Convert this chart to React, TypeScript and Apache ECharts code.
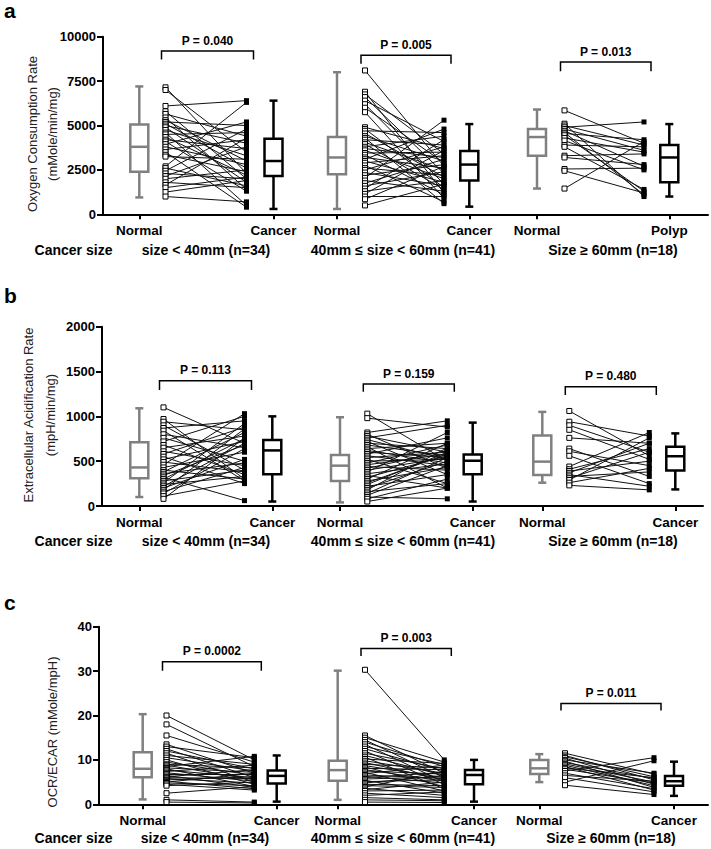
import React, { useEffect, useRef } from 'react';
import * as echarts from 'echarts';

const FONT = '"Liberation Sans", Arial, Helvetica, sans-serif';

// ---------- Panel a: Oxygen consumption rate ----------
const OCR_N1 = [7150, 7000, 6100, 5800, 5650, 5450, 5300, 5200, 5100, 5000, 4900, 4750, 4600, 4500, 4350, 4200, 4100, 3950, 3800, 3650, 3500, 3350, 3250, 2700, 2600, 2450, 2300, 2150, 2000, 1800, 1650, 1500, 1250, 1000];
const OCR_C1 = [2300, 3500, 6400, 2000, 4400, 1400, 3000, 5000, 2600, 4000, 1800, 3300, 500, 4600, 2200, 3700, 1300, 5200, 2800, 4200, 400, 2400, 3100, 6300, 1600, 4800, 2000, 3800, 2500, 1500, 4300, 2100, 1900, 700];
const OCR_N2 = [8100, 6900, 6750, 6600, 6400, 6200, 6000, 5750, 4900, 4800, 4700, 4550, 4400, 4300, 4200, 4050, 3950, 3800, 3700, 3600, 3450, 3350, 3200, 3100, 3000, 2900, 2750, 2600, 2500, 2350, 2200, 2050, 1900, 1750, 1600, 1450, 1300, 1150, 1000, 850, 500];
const OCR_C2 = [2700, 1200, 3400, 2300, 4100, 1700, 2900, 900, 3700, 1500, 4600, 2100, 3000, 600, 3900, 2500, 1400, 4400, 3200, 2000, 3500, 1100, 2600, 4800, 1800, 3300, 700, 2200, 3800, 1600, 2800, 5300, 1300, 3100, 2400, 4200, 1900, 3600, 1000, 2700, 1700];
const OCR_N3 = [5850, 5100, 5000, 4900, 4800, 4700, 4600, 4550, 4450, 4300, 4150, 3900, 3800, 3300, 3200, 2550, 2450, 1450];
const OCR_C3 = [4000, 1000, 3900, 5200, 3600, 2700, 1100, 4200, 1300, 3500, 2500, 3800, 1400, 3400, 2800, 2600, 1200, 4100];
// box stats: [min, q1, median, q3, max]
const OCR_BOX_N = [[950, 2400, 3800, 5050, 7200], [300, 2250, 3200, 4350, 8000], [1450, 3300, 4350, 4800, 5900]];
const OCR_BOX_C = [[300, 2150, 3000, 4250, 6400], [430, 1900, 2800, 3570, 5080], [1000, 1800, 3200, 3900, 5080]];
const OCR_P = ['P = 0.040', 'P = 0.005', 'P = 0.013'];
const OCR_BRACKET = [[9190, 8710], [8950, 8480], [8570, 8050]];

// ---------- Panel b: Extracellular acidification rate ----------
const ECAR_N1 = [1100, 970, 940, 900, 870, 840, 800, 760, 720, 680, 650, 610, 580, 550, 520, 490, 460, 430, 400, 380, 360, 340, 320, 300, 280, 260, 240, 220, 200, 180, 160, 140, 110, 80];
const ECAR_C1 = [700, 300, 850, 400, 950, 280, 650, 500, 1000, 350, 780, 450, 880, 250, 720, 380, 1030, 600, 300, 820, 480, 680, 60, 750, 400, 920, 330, 700, 520, 860, 430, 640, 280, 760];
const ECAR_N2 = [1030, 980, 820, 800, 780, 760, 740, 720, 700, 680, 660, 640, 620, 600, 580, 560, 540, 520, 500, 480, 460, 440, 420, 400, 380, 360, 340, 320, 300, 280, 260, 240, 220, 200, 180, 160, 140, 120, 100, 80, 50];
const ECAR_C2 = [500, 880, 950, 420, 600, 900, 520, 350, 640, 560, 200, 700, 480, 540, 760, 450, 600, 250, 520, 680, 580, 400, 620, 540, 820, 470, 200, 560, 700, 430, 580, 600, 350, 500, 650, 250, 540, 450, 80, 300, 200];
const ECAR_N3 = [1060, 940, 900, 850, 760, 640, 610, 560, 440, 410, 390, 370, 350, 330, 310, 290, 260, 230];
const ECAR_C3 = [560, 780, 600, 520, 700, 330, 450, 250, 820, 640, 500, 700, 220, 380, 600, 760, 420, 180];
const ECAR_BOX_N = [[100, 310, 430, 710, 1090], [40, 280, 450, 570, 990], [260, 345, 495, 785, 1050]];
const ECAR_BOX_C = [[50, 355, 620, 735, 1000], [50, 355, 505, 575, 930], [185, 395, 555, 660, 810]];
const ECAR_P = ['P = 0.113', 'P = 0.159', 'P = 0.480'];
const ECAR_BRACKET = [[1397, 1293], [1360, 1274], [1330, 1238]];

// ---------- Panel c: OCR/ECAR ----------
const RATIO_N1 = [20, 18, 15.5, 13.5, 13, 12.5, 12, 11.5, 11, 10.5, 10, 9.5, 9, 8.8, 8.5, 8.2, 8, 7.7, 7.4, 7.1, 6.8, 6.5, 6.2, 6, 5.8, 5.5, 5.2, 5, 4.8, 4.5, 4.2, 2.5, 1, 0.5];
const RATIO_C1 = [10, 8.5, 9.5, 7, 10.5, 6, 8, 5, 9, 7.5, 4.5, 6.5, 8.2, 5.5, 10.8, 7.2, 4, 6, 8.8, 5.2, 6.8, 3.8, 7.8, 5.8, 4.8, 6.2, 3.5, 7, 4.2, 3.2, 5, 4, 0.5, 0.3];
const RATIO_N2 = [30.3, 15.5, 15, 14.5, 14, 13.5, 13, 12.5, 12, 11.5, 11, 10.6, 10.2, 9.8, 9.4, 9, 8.7, 8.4, 8.1, 7.8, 7.5, 7.2, 6.9, 6.6, 6.3, 6, 5.7, 5.4, 5.1, 4.8, 4.5, 4.2, 3.9, 3.6, 3.3, 3, 2.5, 2, 1.5, 1, 0.5];
const RATIO_C2 = [10, 7, 9.5, 6, 8.5, 5, 9, 7.5, 4.5, 8, 6.5, 3.5, 9.2, 7, 5.5, 8.2, 6, 4, 7.8, 5.2, 6.8, 3, 8.8, 5.8, 4.8, 7.2, 6.2, 2.5, 5.5, 6.5, 4.2, 3.8, 7.5, 2, 5, 3.2, 1.5, 2.8, 1, 0.8, 0.4];
const RATIO_N3 = [11.5, 11, 10.7, 10.4, 10, 9.7, 9.4, 9.1, 8.8, 8.5, 8.2, 7.9, 7.5, 7, 6.5, 6, 5, 4.3];
const RATIO_C3 = [6.8, 5.5, 6.2, 4.5, 7, 3.8, 5.8, 5, 4.2, 3.2, 6, 4.8, 10.5, 3.5, 5.2, 2.8, 9.8, 2.2];
const RATIO_BOX_N = [[1.1, 6.1, 8.0, 11.7, 20.3], [1.0, 5.3, 7.7, 9.8, 30.1], [5.0, 6.8, 8.1, 10.0, 11.3]];
const RATIO_BOX_C = [[0.6, 4.7, 6.4, 7.6, 11.0], [0.6, 4.5, 6.6, 7.7, 10.0], [1.9, 4.2, 5.2, 6.4, 9.6]];
const RATIO_P = ['P = 0.0002', 'P = 0.003', 'P = 0.011'];
const RATIO_BRACKET = [[32.1, 30.1], [35.1, 33.4], [22.7, 21.1]];

// ---------- texts ----------
const X_LABELS_A = ['Normal', 'Cancer', 'Normal', 'Cancer', 'Normal', 'Polyp'];
const X_LABELS_BC = ['Normal', 'Cancer', 'Normal', 'Cancer', 'Normal', 'Cancer'];
const SIZE_ROW_TITLE = 'Cancer size';
const SIZE_GROUPS = ['size < 40mm (n=34)', '40mm \u2264 size < 60mm (n=41)', 'Size \u2265 60mm (n=18)'];

// ---------- layout (pixel positions of slots: normal box, left points, right points, cancer box) ----------
const PANELS = [
  {
    letter: 'a', yMax: 10000, yInterval: 2500,
    left: 103, right: 708, top: 36.7, bottom: 214.3,
    slots: [[139.3, 165.5, 246.5, 273.5], [337, 365, 444, 469.3], [537, 564.5, 644, 669.3]],
    xLabels: X_LABELS_A,
    normal: [OCR_N1, OCR_N2, OCR_N3], cancer: [OCR_C1, OCR_C2, OCR_C3],
    boxN: OCR_BOX_N, boxC: OCR_BOX_C, pLabels: OCR_P, brackets: OCR_BRACKET,
    title: ['Oxygen Consumption Rate', '(mMole/min/mg)'], titleX: [32, 52], titleY: 134,
    letterY: 10.5, rowY: 250, groupX: [206, 403, 613],
  },
  {
    letter: 'b', yMax: 2000, yInterval: 500,
    left: 102, right: 703, top: 326.7, bottom: 506,
    slots: [[139.3, 163.5, 244.5, 272.3], [340, 367.3, 447.3, 472.7], [542.3, 569.3, 649.3, 675.3]],
    xLabels: X_LABELS_BC,
    normal: [ECAR_N1, ECAR_N2, ECAR_N3], cancer: [ECAR_C1, ECAR_C2, ECAR_C3],
    boxN: ECAR_BOX_N, boxC: ECAR_BOX_C, pLabels: ECAR_P, brackets: ECAR_BRACKET,
    title: ['Extracellular Acidification Rate', '(mpH/min/mg)'], titleX: [28, 50], titleY: 415,
    letterY: 295.5, rowY: 541, groupX: [206, 403, 613],
  },
  {
    letter: 'c', yMax: 40, yInterval: 10,
    left: 99, right: 708, top: 626.7, bottom: 804.3,
    slots: [[142.7, 166.5, 254.3, 276.7], [337.7, 365, 444.3, 474], [539.3, 565, 654, 674]],
    xLabels: X_LABELS_BC,
    normal: [RATIO_N1, RATIO_N2, RATIO_N3], cancer: [RATIO_C1, RATIO_C2, RATIO_C3],
    boxN: RATIO_BOX_N, boxC: RATIO_BOX_C, pLabels: RATIO_P, brackets: RATIO_BRACKET,
    title: ['OCR/ECAR (mMole/mpH)'], titleX: [52], titleY: 732,
    letterY: 602.5, rowY: 838, groupX: [205, 403, 611],
  },
];

const makeBoxRender = (color: string) => (params: any, api: any) => {
  const x = api.value(0);
  const pt = (v: number) => api.coord([x, v]);
  const [cx, yMin] = pt(api.value(1));
  const yQ1 = pt(api.value(2))[1];
  const yMed = pt(api.value(3))[1];
  const yQ3 = pt(api.value(4))[1];
  const yMax = pt(api.value(5))[1];
  const bw = 9;
  const cw = 4;
  const style = { stroke: color, lineWidth: 2.5, fill: 'none' };
  return {
    type: 'group',
    children: [
      { type: 'line', shape: { x1: cx, y1: yMin, x2: cx, y2: yQ1 }, style },
      { type: 'line', shape: { x1: cx, y1: yQ3, x2: cx, y2: yMax }, style },
      { type: 'line', shape: { x1: cx - cw, y1: yMin, x2: cx + cw, y2: yMin }, style },
      { type: 'line', shape: { x1: cx - cw, y1: yMax, x2: cx + cw, y2: yMax }, style },
      { type: 'rect', shape: { x: cx - bw, y: yQ3, width: 2 * bw, height: yQ1 - yQ3 }, style },
      { type: 'line', shape: { x1: cx - bw, y1: yMed, x2: cx + bw, y2: yMed }, style },
    ],
  };
};

const makeBracketRender = (labels: string[]) => (params: any, api: any) => {
  const x1 = api.value(0);
  const x2 = api.value(1);
  const yT = api.value(2);
  const yB = api.value(3);
  const a = api.coord([x1, yB]);
  const b = api.coord([x1, yT]);
  const c = api.coord([x2, yT]);
  const d = api.coord([x2, yB]);
  return {
    type: 'group',
    children: [
      { type: 'polyline', shape: { points: [a, b, c, d] }, style: { stroke: '#000', lineWidth: 1.5, fill: 'none' } },
      {
        type: 'text', x: (b[0] + c[0]) / 2, y: b[1] - 10.5,
        style: { text: labels[params.dataIndex], align: 'center', verticalAlign: 'middle', textAlign: 'center', textVerticalAlign: 'middle', font: `bold 12px ${FONT}`, fill: '#000' },
      },
    ],
  };
};

function buildOption() {
  const grid: any[] = [];
  const xAxis: any[] = [];
  const yAxis: any[] = [];
  const series: any[] = [];
  const graphic: any[] = [];

  PANELS.forEach((p, i) => {
    grid.push({ left: p.left, top: p.top, width: p.right - p.left, height: p.bottom - p.top, containLabel: false, outerBoundsMode: 'none' });
    const tickVals: number[] = [];
    p.slots.forEach((s) => { tickVals.push(s[0]); tickVals.push(s[3]); });
    xAxis.push({
      type: 'value', gridIndex: i, min: p.left, max: p.right,
      axisLine: { show: true, onZero: false, lineStyle: { color: '#000', width: 2 } },
      axisTick: { show: true, customValues: tickVals, length: 5, lineStyle: { color: '#000', width: 2 } },
      axisLabel: {
        show: true, customValues: tickVals, margin: 9,
        fontFamily: FONT, fontWeight: 'bold', fontSize: 13.5, color: '#000',
        formatter: (v: number) => {
          const k = tickVals.findIndex((t) => Math.abs(t - v) < 0.5);
          return k >= 0 ? p.xLabels[k] : '';
        },
      },
      splitLine: { show: false },
    });
    yAxis.push({
      type: 'value', gridIndex: i, min: 0, max: p.yMax, interval: p.yInterval,
      axisLine: { show: true, lineStyle: { color: '#000', width: 2 } },
      axisTick: { show: true, length: 6, lineStyle: { color: '#000', width: 2 } },
      axisLabel: { fontFamily: FONT, fontWeight: 'bold', fontSize: 13, color: '#000', margin: 7, formatter: (v: number) => String(v) },
      splitLine: { show: false },
    });

    const lineData: any[] = [];
    const nPts: number[][] = [];
    const cPts: number[][] = [];
    const boxN: number[][] = [];
    const boxC: number[][] = [];
    const br: number[][] = [];
    p.slots.forEach((s, g) => {
      const N = p.normal[g];
      const C = p.cancer[g];
      N.forEach((v, k) => {
        lineData.push({ coords: [[s[1], v], [s[2], C[k]]] });
        nPts.push([s[1], v]);
        cPts.push([s[2], C[k]]);
      });
      boxN.push([s[0], ...p.boxN[g]]);
      boxC.push([s[3], ...p.boxC[g]]);
      br.push([s[1] - 4, s[2] + 7, p.brackets[g][0], p.brackets[g][1]]);
    });

    series.push({
      type: 'lines', coordinateSystem: 'cartesian2d', xAxisIndex: i, yAxisIndex: i, silent: true,
      lineStyle: { color: '#111', width: 1, opacity: 1 }, data: lineData, z: 2,
    });
    series.push({
      type: 'scatter', xAxisIndex: i, yAxisIndex: i, symbol: 'rect', symbolSize: 5, silent: true,
      itemStyle: { color: '#fff', borderColor: '#000', borderWidth: 1, opacity: 1 }, data: nPts, z: 3,
    });
    series.push({
      type: 'scatter', xAxisIndex: i, yAxisIndex: i, symbol: 'rect', symbolSize: [5, 5], silent: true,
      itemStyle: { color: '#000', opacity: 1 }, data: cPts, z: 3,
    });
    series.push({
      type: 'custom', xAxisIndex: i, yAxisIndex: i, silent: true, renderItem: makeBoxRender('#808080'),
      encode: { x: 0, y: [1, 2, 3, 4, 5] }, data: boxN, z: 4,
    });
    series.push({
      type: 'custom', xAxisIndex: i, yAxisIndex: i, silent: true, renderItem: makeBoxRender('#000'),
      encode: { x: 0, y: [1, 2, 3, 4, 5] }, data: boxC, z: 4,
    });
    series.push({
      type: 'custom', xAxisIndex: i, yAxisIndex: i, silent: true, renderItem: makeBracketRender(p.pLabels),
      encode: { x: [0, 1], y: [2, 3] }, data: br, z: 4,
    });

    graphic.push({
      type: 'text', x: 4, y: p.letterY,
      style: { text: p.letter, font: `bold 21px ${FONT}`, lineHeight: 14, fill: '#000', align: 'left', verticalAlign: 'middle', textAlign: 'left', textVerticalAlign: 'middle' },
    });
    p.title.forEach((t, k) => {
      graphic.push({
        type: 'text', x: p.titleX[k], y: p.titleY, rotation: Math.PI / 2,
        style: { text: t, font: `13px ${FONT}`, fill: '#222', align: 'center', verticalAlign: 'middle', textAlign: 'center', textVerticalAlign: 'middle' },
      });
    });
    graphic.push({
      type: 'text', x: 73.5, y: p.rowY,
      style: { text: SIZE_ROW_TITLE, font: `bold 14px ${FONT}`, fill: '#000', align: 'center', verticalAlign: 'middle', textAlign: 'center', textVerticalAlign: 'middle' },
    });
    SIZE_GROUPS.forEach((t, k) => {
      graphic.push({
        type: 'text', x: p.groupX[k], y: p.rowY,
        style: { text: t, font: `bold 14px ${FONT}`, fill: '#000', align: 'center', verticalAlign: 'middle', textAlign: 'center', textVerticalAlign: 'middle' },
      });
    });
  });

  return {
    animation: false,
    backgroundColor: '#fff',
    textStyle: { fontFamily: FONT },
    grid, xAxis, yAxis, series, graphic,
  };
}

export default function App() {
  const ref = useRef<HTMLDivElement>(null);
  useEffect(() => {
    document.body.style.margin = '0';
    if (!ref.current) return;
    const chart = echarts.init(ref.current, undefined, { renderer: 'svg' });
    chart.setOption(buildOption() as any);
    return () => chart.dispose();
  }, []);
  return <div ref={ref} style={{ width: 711, height: 849 }} />;
}
